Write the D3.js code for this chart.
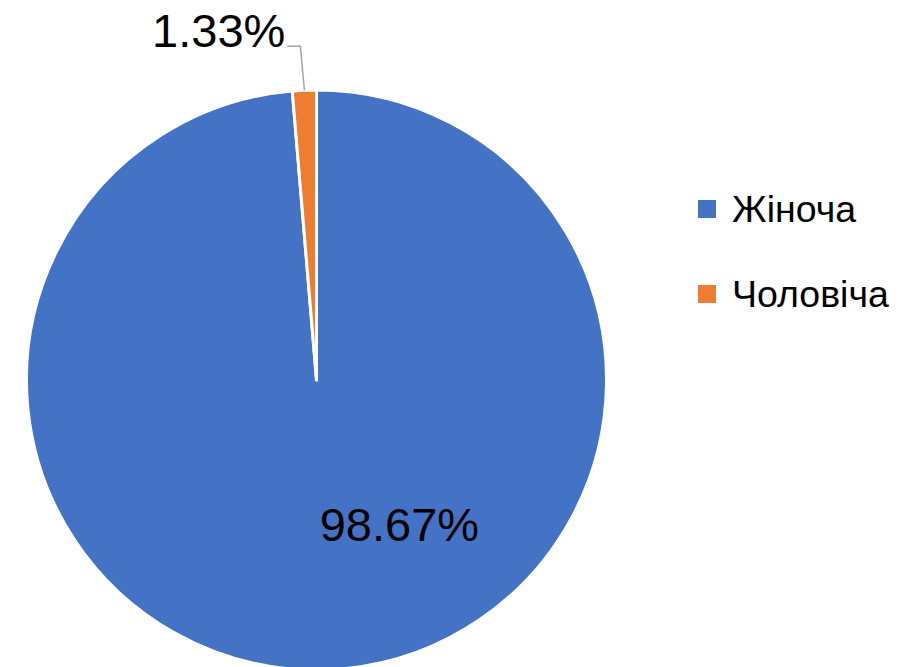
<!DOCTYPE html>
<html><head><meta charset="utf-8">
<script src="https://cdn.jsdelivr.net/npm/d3@7"></script>
<style>html,body{margin:0;padding:0;background:#fff;overflow:hidden}</style>
</head><body>
<svg id="chart" width="913" height="667"></svg>
<script>
const categories = ["Жіноча", "Чоловіча"];
const values = [98.67, 1.33];
const labels = ["98.67%", "1.33%"];
const colors = ["#4472C4", "#ED7D31"];

const svg = d3.select("#chart");
const cx = 316.5, cy = 380, r = 290;
const g = svg.append("g").attr("transform", `translate(${cx},${cy})`);

const pie = d3.pie().sort(null).value(d => d)(values);
const arc = d3.arc().innerRadius(0).outerRadius(r);

g.selectAll("path").data(pie).join("path")
  .attr("d", arc)
  .attr("fill", (d, i) => colors[i])
  .attr("stroke", "#fff")
  .attr("stroke-width", 3)
  .attr("stroke-linejoin", "round");

const font = "'Liberation Sans', Arial, sans-serif";

// inside label for large slice
const inArc = d3.arc().innerRadius(r * 0.57).outerRadius(r * 0.57);
const p0 = inArc.centroid({startAngle: Math.PI * 0.835, endAngle: Math.PI * 0.835});
g.append("text").attr("x", p0[0] + 1).attr("y", p0[1])
  .attr("text-anchor", "middle").attr("dy", "0.36em")
  .attr("font-family", font).attr("font-size", 47).attr("fill", "#000")
  .text(labels[0]);

// outside label with leader line for small slice
const s = pie[1];
const mid = (s.startAngle + s.endAngle) / 2;
const edge = [Math.sin(mid) * r, -Math.cos(mid) * r];
const elbow = [edge[0] - 4, edge[1] - 44];
const lineEnd = [elbow[0] - 13, elbow[1]];
g.append("polyline")
  .attr("points", [edge, elbow, lineEnd].map(p => p.join(",")).join(" "))
  .attr("fill", "none").attr("stroke", "#A6A6A6").attr("stroke-width", 1.5);
g.append("text").attr("x", lineEnd[0] - 2).attr("y", lineEnd[1] + 1)
  .attr("text-anchor", "end")
  .attr("font-family", font).attr("font-size", 47).attr("fill", "#000")
  .text(labels[1]);

// legend
const lg = svg.append("g");
const ly = d3.scalePoint().domain(categories).range([209, 294]);
categories.forEach((c, i) => {
  lg.append("rect").attr("x", 698).attr("y", ly(c) - 9).attr("width", 18).attr("height", 18)
    .attr("fill", colors[i]);
  lg.append("text").attr("x", 732).attr("y", ly(c) + 13)
    .attr("font-family", font).attr("font-size", 37.5).attr("fill", "#000")
    .text(c);
});
</script>
</body></html>
